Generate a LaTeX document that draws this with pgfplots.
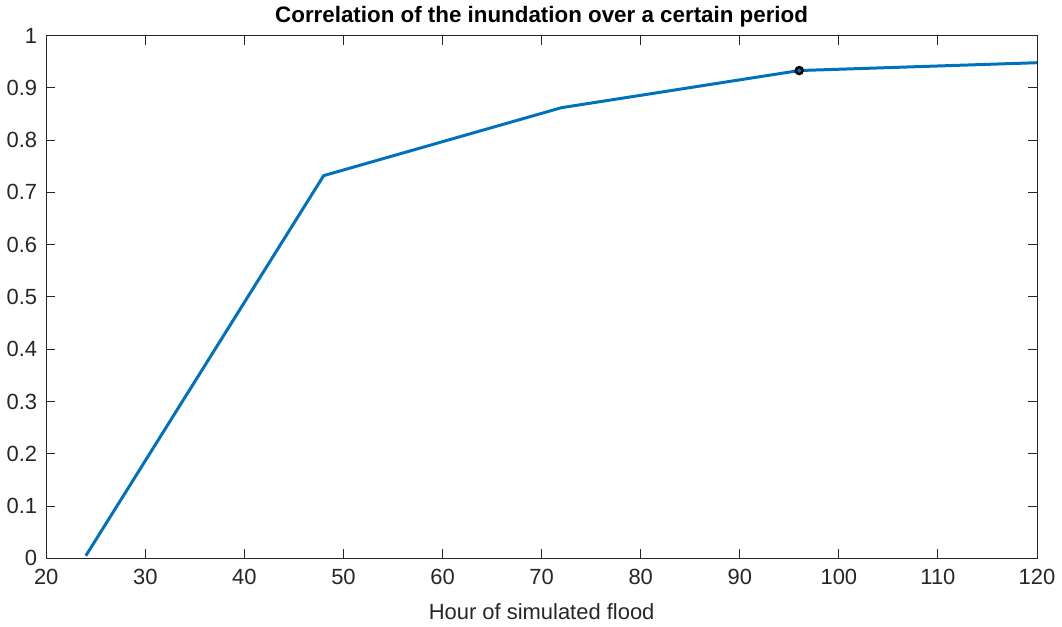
\documentclass[border=0pt]{standalone}
\usepackage{pgfplots}
\pgfplotsset{compat=1.18}
\usepackage{fontspec}
\setmainfont{Liberation Sans}
\definecolor{mblue}{RGB}{0,114,189}
\definecolor{axgray}{RGB}{38,38,38}
\begin{document}
\begin{tikzpicture}
\begin{axis}[
  scale only axis,
  width=496.5pt, height=262pt,
  xmin=20, xmax=120, ymin=0, ymax=1,
  xtick={20,30,...,120},
  ytick={0,0.1,...,1.0},
  yticklabels={0,0.1,0.2,0.3,0.4,0.5,0.6,0.7,0.8,0.9,1},
  tick align=inside,
  major tick length=4.5pt,
  axis line style={axgray, line width=0.5pt},
  every tick/.style={axgray, line width=0.5pt},
  tick label style={font=\fontsize{11}{13}\selectfont, text=axgray},
  /pgf/number format/assume math mode=true,
  xticklabel style={yshift=-2pt},
  yticklabel style={xshift=-1pt},
  title={\textbf{Correlation of the inundation over a certain period}},
  title style={font=\fontsize{11.2}{13}\selectfont, at={(0.5,1)}, anchor=south, yshift=-5.5pt},
  xlabel={Hour of simulated flood},
  xlabel style={font=\fontsize{11}{13}\selectfont, text=axgray, yshift=-2.5pt},
  clip=false,
]
\addplot[mblue, line width=1.5pt] coordinates {
  (24,0.005) (48,0.732) (72,0.862) (96,0.933) (120,0.948)
};
\addplot[only marks, mark=o, mark size=1.7pt, black, line width=1.3pt] coordinates {
  (96,0.933)
};
\end{axis}
\useasboundingbox (-23pt,-32pt) rectangle (508pt,278.5pt);
\end{tikzpicture}
\end{document}
